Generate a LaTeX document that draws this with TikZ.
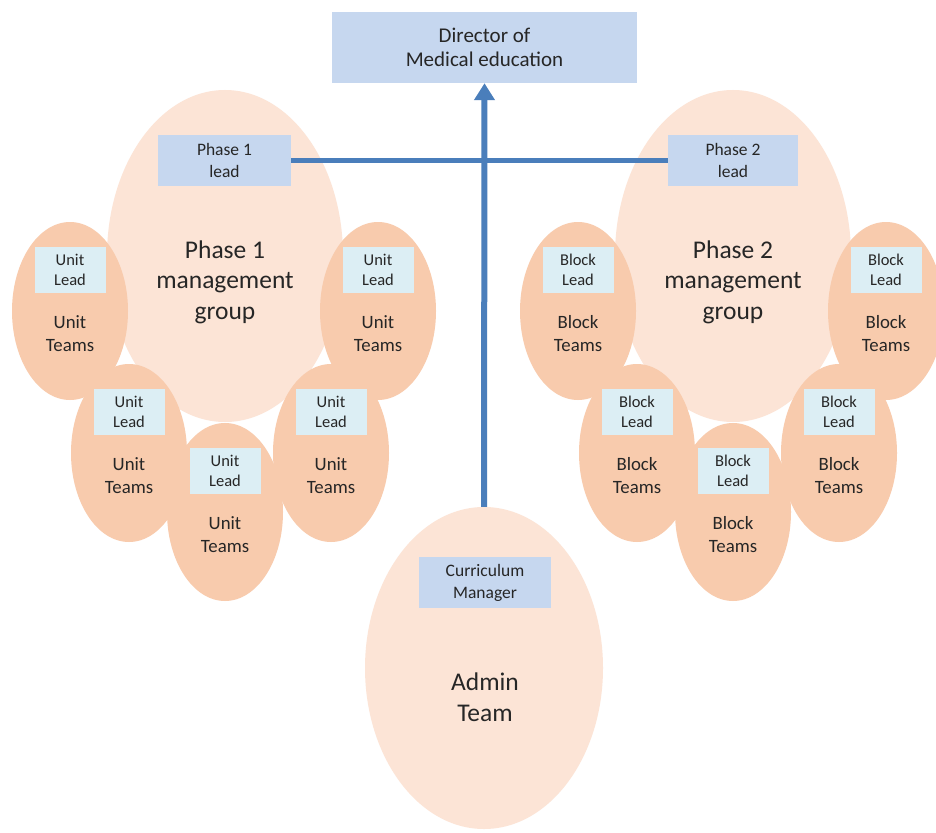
\documentclass[tikz,border=0pt]{standalone}
\usepackage{fontspec}
\setmainfont{Carlito}
\usetikzlibrary{shapes.geometric,arrows.meta}
\definecolor{peachlight}{HTML}{FCE4D6}
\definecolor{peachdark}{HTML}{F8CBAD}
\definecolor{boxblue}{HTML}{C6D7EF}
\definecolor{leadcyan}{HTML}{DCEEF4}
\definecolor{linkblue}{HTML}{4A7EBB}
\definecolor{ink}{HTML}{262626}
\begin{document}
\begin{tikzpicture}[x=1pt,y=-1pt,
  bigoval/.style={ellipse,fill=peachlight,inner sep=0pt,minimum width=236pt,minimum height=332pt},
  unitoval/.style={ellipse,fill=peachdark,inner sep=0pt,minimum width=116pt,minimum height=178pt},
  rolebox/.style={rectangle,fill=boxblue,inner sep=0pt,align=center,text=ink,font=\fontsize{17.5}{22}\selectfont},
  leadbox/.style={rectangle,fill=leadcyan,inner sep=0pt,minimum width=71pt,minimum height=46pt,align=center,text=ink,font=\fontsize{16.5}{20}\selectfont},
  teamtext/.style={align=center,text=ink,inner sep=0pt,font=\fontsize{18.8}{23}\selectfont},
  bigtext/.style={align=center,text=ink,inner sep=0pt,font=\fontsize{25.5}{30.5}\selectfont},
  link/.style={draw=linkblue,line width=5pt},
  uplink/.style={draw=linkblue,line width=6pt,-{Triangle[length=17pt,width=20pt]}}
]
\useasboundingbox (0,0) rectangle (936,832);
\fill[white] (0,0) rectangle (936,832);

% management groups and admin team
\node[bigoval] (g1) at (225,256) {};
\node[bigoval] (g2) at (733,256) {};
\node[bigoval,minimum width=238pt,minimum height=322pt] (admin) at (484,668) {};

% phase 1 unit ovals
\node[unitoval] (u1) at (70,311) {};
\node[unitoval] (u2) at (378,311) {};
\node[unitoval] (u3) at (129,453) {};
\node[unitoval] (u4) at (331,453) {};
\node[unitoval] (u5) at (225,512) {};

% phase 2 block ovals
\node[unitoval] (b1) at (578,311) {};
\node[unitoval] (b2) at (886,311) {};
\node[unitoval] (b3) at (637,453) {};
\node[unitoval] (b4) at (839,453) {};
\node[unitoval] (b5) at (733,512) {};

% group labels
\node[bigtext] (g1t) at (225,282) {Phase 1\\management\\group};
\node[bigtext] (g2t) at (733,282) {Phase 2\\management\\group};
\node[bigtext] (admint) at (485,697) {Admin\\Team};

% unit leads and teams
\foreach \n/\x/\y in {u1/70/311,u2/378/311,u3/129/453,u4/331/453,u5/225/512}{
  \node[leadbox] (\n lead) at (\x,\y-41) {Unit\\Lead};
  \node[teamtext] (\n team) at (\x,\y+23) {Unit\\Teams};
}
\foreach \n/\x/\y in {b1/578/311,b2/886/311,b3/637/453,b4/839/453,b5/733/512}{
  \node[leadbox] (\n lead) at (\x,\y-41) {Block\\Lead};
  \node[teamtext] (\n team) at (\x,\y+23) {Block\\Teams};
}

% role boxes
\node[rolebox,minimum width=305pt,minimum height=71pt,font=\fontsize{21}{24}\selectfont] (dir) at (484.5,47.5) {Director of\\Medical education};
\node[rolebox,minimum width=133pt,minimum height=51pt] (p1) at (224.5,160.5) {Phase 1\\lead};
\node[rolebox,minimum width=130pt,minimum height=51pt] (p2) at (733,160.5) {Phase 2\\lead};
\node[rolebox,minimum width=132pt,minimum height=51pt] (cm) at (485,582.5) {Curriculum\\Manager};

% reporting lines
\draw[link] (p1.east) -- (p2.west);
\draw[uplink] (admin.north) -- (dir.south);
\end{tikzpicture}
\end{document}
